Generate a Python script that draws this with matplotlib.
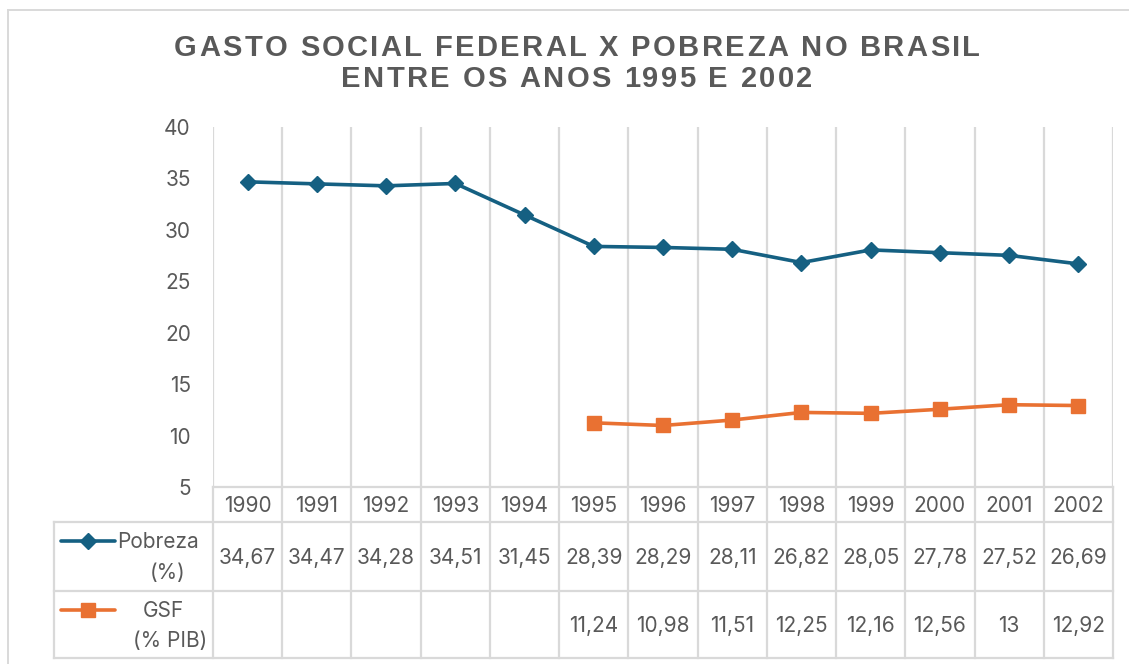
import matplotlib
matplotlib.use("Agg")
import matplotlib.pyplot as plt
from matplotlib.lines import Line2D
from matplotlib import font_manager
from matplotlib.ft2font import FT2Font
import numpy as np

# ---------------- data ----------------
years = ["1990", "1991", "1992", "1993", "1994", "1995", "1996",
         "1997", "1998", "1999", "2000", "2001", "2002"]
pobreza = [34.67, 34.47, 34.28, 34.51, 31.45, 28.39, 28.29,
           28.11, 26.82, 28.05, 27.78, 27.52, 26.69]
gsf = [None, None, None, None, None, 11.24, 10.98,
       11.51, 12.25, 12.16, 12.56, 13, 12.92]
yticks = [5, 10, 15, 20, 25, 30, 35, 40]
title_lines = ["GASTO SOCIAL FEDERAL X POBREZA NO BRASIL",
               "ENTRE OS ANOS 1995 E 2002"]
series_names = [("Pobreza", "(%)"), ("GSF", "(% PIB)")]

# ---------------- style ----------------
W, H = 1129, 664
DPI = 100
C_POB = "#156082"
C_GSF = "#E97132"
C_TXT = "#595959"
C_GRID = "#D9D9D9"
FONT = "Inter"
FS = 15

fig = plt.figure(figsize=(W / DPI, H / DPI), dpi=DPI)
fig.patch.set_facecolor("white")

def fx(px):
    return px / W

def fy(py):
    return 1 - py / H

# plot area in pixels
L, R, T, B = 213, 1113, 127, 487
ax = fig.add_axes([fx(L), fy(B), fx(R) - fx(L), fy(T) - fy(B)])
n = len(years)
x = np.arange(n)
ax.set_xlim(-0.5, n - 0.5)
ax.set_ylim(yticks[0], yticks[-1])
for s in ax.spines.values():
    s.set_visible(False)
ax.set_xticks([])
ax.set_yticks(yticks)
ax.set_yticklabels([str(v) for v in yticks], fontfamily=FONT, fontsize=FS, color=C_TXT)
ax.tick_params(axis="y", length=0, pad=16)

# vertical grid lines at category boundaries
for b in np.arange(-0.5, n, 1.0):
    ax.axvline(b, color=C_GRID, lw=1.6, zorder=0)

ax.plot(x, pobreza, color=C_POB, lw=2.6, marker="D", ms=8.2, mec=C_POB, mew=1,
        solid_capstyle="round", zorder=3, clip_on=False)
gx = [xi for xi, v in zip(x, gsf) if v is not None]
gv = [v for v in gsf if v is not None]
ax.plot(gx, gv, color=C_GSF, lw=2.6, marker="s", ms=10.5, mec=C_GSF, mew=1,
        zorder=3, clip_on=False)

# ---------------- data table ----------------
r_top, r1, r2, r_bot = 487, 522, 591, 658
tbl_left = 54
col_w = (R - L) / n
cols = [L + i * col_w for i in range(n + 1)]

def hline(y, x0, x1):
    fig.add_artist(Line2D([fx(x0), fx(x1)], [fy(y), fy(y)], color=C_GRID, lw=1.6))

def vline(xp, y0, y1):
    fig.add_artist(Line2D([fx(xp), fx(xp)], [fy(y0), fy(y1)], color=C_GRID, lw=1.6))

hline(r_top, L, R)
hline(r1, tbl_left, R)
hline(r2, tbl_left, R)
hline(r_bot, tbl_left, R)
vline(tbl_left, r1, r_bot)
for c in cols:
    vline(c, r_top, r_bot)

def fmt(v):
    if v is None:
        return ""
    s = ("%.2f" % v).rstrip("0").rstrip(".")
    return s.replace(".", ",")

for i in range(n):
    cx = (cols[i] + cols[i + 1]) / 2
    fig.text(fx(cx), fy((r_top + r1) / 2 + 1), years[i], ha="center", va="center",
             fontfamily=FONT, fontsize=FS, color=C_TXT)
    fig.text(fx(cx), fy((r1 + r2) / 2 + 1), fmt(pobreza[i]), ha="center", va="center",
             fontfamily=FONT, fontsize=FS, color=C_TXT)
    fig.text(fx(cx), fy((r2 + r_bot) / 2 + 1), fmt(gsf[i]), ha="center", va="center",
             fontfamily=FONT, fontsize=FS, color=C_TXT)

# legend keys in table
fig.add_artist(Line2D([fx(61), fx(115)], [fy(541), fy(541)], color=C_POB, lw=2.6,
                      solid_capstyle="round"))
fig.add_artist(Line2D([fx(88)], [fy(541)], color=C_POB, marker="D", ms=8.2, mec=C_POB, mew=1))
fig.add_artist(Line2D([fx(61), fx(115)], [fy(610), fy(610)], color=C_GSF, lw=2.6,
                      solid_capstyle="round"))
fig.add_artist(Line2D([fx(88)], [fy(610)], color=C_GSF, marker="s", ms=10.5, mec=C_GSF, mew=1))

fig.text(fx(117), fy(542), series_names[0][0], ha="left", va="center",
         fontfamily=FONT, fontsize=FS, color=C_TXT)
fig.text(fx(168), fy(573), series_names[0][1], ha="center", va="center",
         fontfamily=FONT, fontsize=FS, color=C_TXT)
fig.text(fx(163), fy(611), series_names[1][0], ha="center", va="center",
         fontfamily=FONT, fontsize=FS, color=C_TXT)
fig.text(fx(170), fy(641), series_names[1][1], ha="center", va="center",
         fontfamily=FONT, fontsize=FS, color=C_TXT)

# ---------------- chart border ----------------
fig.add_artist(Line2D([fx(8), fx(W + 5)], [fy(10), fy(10)], color=C_GRID, lw=1.4))
fig.add_artist(Line2D([fx(8), fx(8)], [fy(10), fy(H + 5)], color=C_GRID, lw=1.4))

# ---------------- title with letter spacing ----------------
tprop = font_manager.FontProperties(family="Liberation Sans", weight="bold", size=21)
tfont = FT2Font(font_manager.findfont(tprop))
tfont.set_size(tprop.get_size_in_points(), DPI)

def advance(ch):
    g = tfont.load_char(ord(ch))
    return g.linearHoriAdvance / 65536.0

def spaced_text(s, x_left, x_right, y_center):
    advs = [advance(c) for c in s]
    natural = sum(advs)
    target = x_right - x_left
    sp = (target - natural) / (len(s) - 1) if len(s) > 1 else 0
    xp = x_left
    for c, a in zip(s, advs):
        if c != " ":
            fig.text(fx(xp), fy(y_center), c, ha="left", va="center",
                     fontproperties=tprop, color=C_TXT)
        xp += a + sp
    return sp

sp = spaced_text(title_lines[0], 174, 980, 48)
# second line: same spacing, centered on the same axis
advs2 = [advance(c) for c in title_lines[1]]
w2 = sum(advs2) + sp * (len(title_lines[1]) - 1)
cx = (174 + 980) / 2
spaced_text(title_lines[1], cx - w2 / 2, cx + w2 / 2, 79)

fig.savefig("out.png", dpi=DPI, facecolor="white")
